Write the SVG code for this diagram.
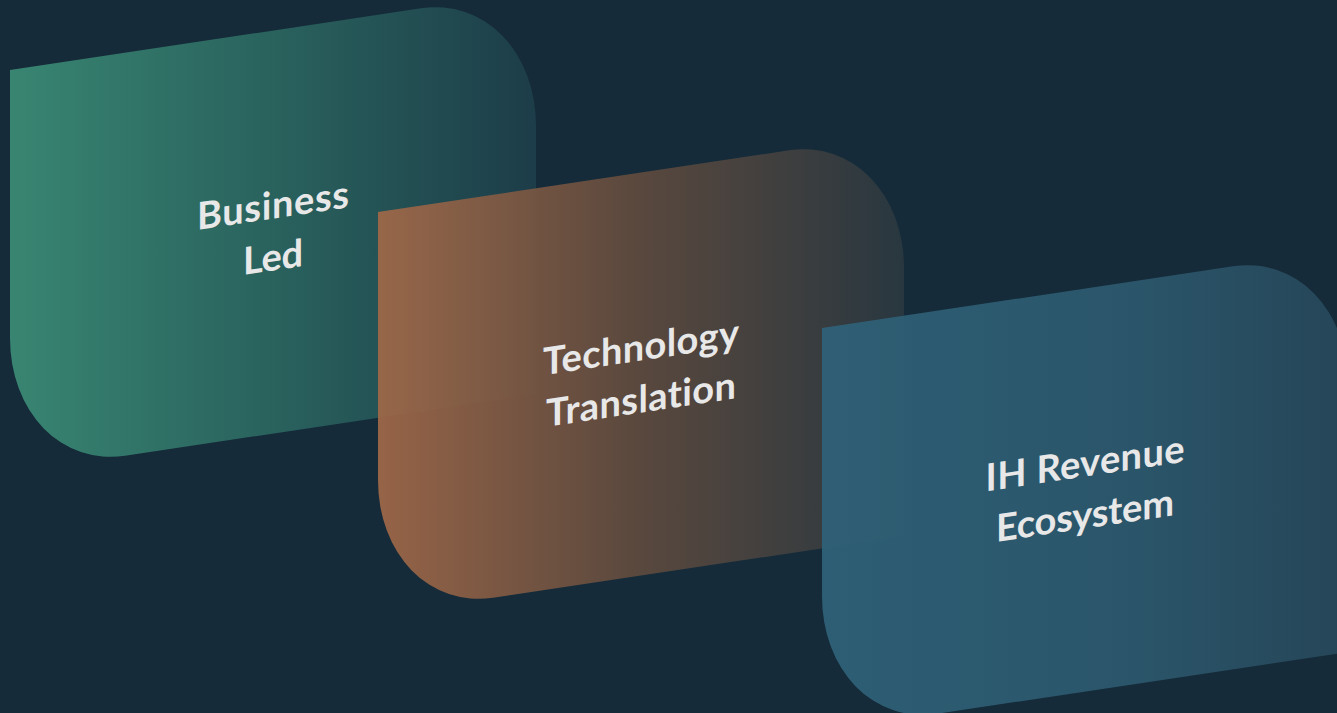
<svg xmlns="http://www.w3.org/2000/svg" width="1337" height="713" viewBox="0 0 1337 713">
  <defs>
    <linearGradient id="gGreen" x1="0" y1="0" x2="1" y2="0">
      <stop offset="0" stop-color="#3b8c76"/>
      <stop offset="0.5" stop-color="#2b6660"/>
      <stop offset="1" stop-color="#1d3e4a"/>
    </linearGradient>
    <linearGradient id="gOrange" x1="0" y1="0" x2="1" y2="0">
      <stop offset="0" stop-color="#a06848"/>
      <stop offset="0.5" stop-color="#5e4a3e"/>
      <stop offset="1" stop-color="#2a3840"/>
    </linearGradient>
    <linearGradient id="gBlue" x1="0" y1="0" x2="1" y2="0">
      <stop offset="0" stop-color="#2f6279"/>
      <stop offset="0.6" stop-color="#2c586d"/>
      <stop offset="1" stop-color="#27475a"/>
    </linearGradient>
    <path id="card" d="M0,0 H411 A115,135 0 0 1 526,135 V403 H115 A115,135 0 0 1 0,268 Z"/>
  </defs>
  <style>
    .lbl { font-family: Lato, "Open Sans", "Liberation Sans", sans-serif; font-weight: 700; font-size: 38px; fill: #e8e8e8; text-anchor: middle; font-variant-ligatures: none; font-feature-settings: "liga" 0; }
    .card { fill-opacity: 0.93; }
  </style>
  <rect width="1337" height="713" fill="#152b39"/>
  <g id="business-led" transform="translate(10,70) skewY(-8.53)">
    <use href="#card" class="card" fill="url(#gGreen)"/>
    <text class="lbl" x="263" y="188" textLength="152">Business</text>
    <text class="lbl" x="263" y="240" textLength="60">Led</text>
  </g>
  <g id="technology-translation" transform="translate(378,212) skewY(-8.53)">
    <use href="#card" class="card" fill="url(#gOrange)"/>
    <text class="lbl" x="263" y="188" textLength="196">Technology</text>
    <text class="lbl" x="263" y="240" textLength="190">Translation</text>
  </g>
  <g id="ih-revenue-ecosystem" transform="translate(822,328) skewY(-8.53)">
    <use href="#card" class="card" fill="url(#gBlue)"/>
    <text class="lbl" x="263" y="188" textLength="199">IH Revenue</text>
    <text class="lbl" x="263" y="240" textLength="178">Ecosystem</text>
  </g>
</svg>
